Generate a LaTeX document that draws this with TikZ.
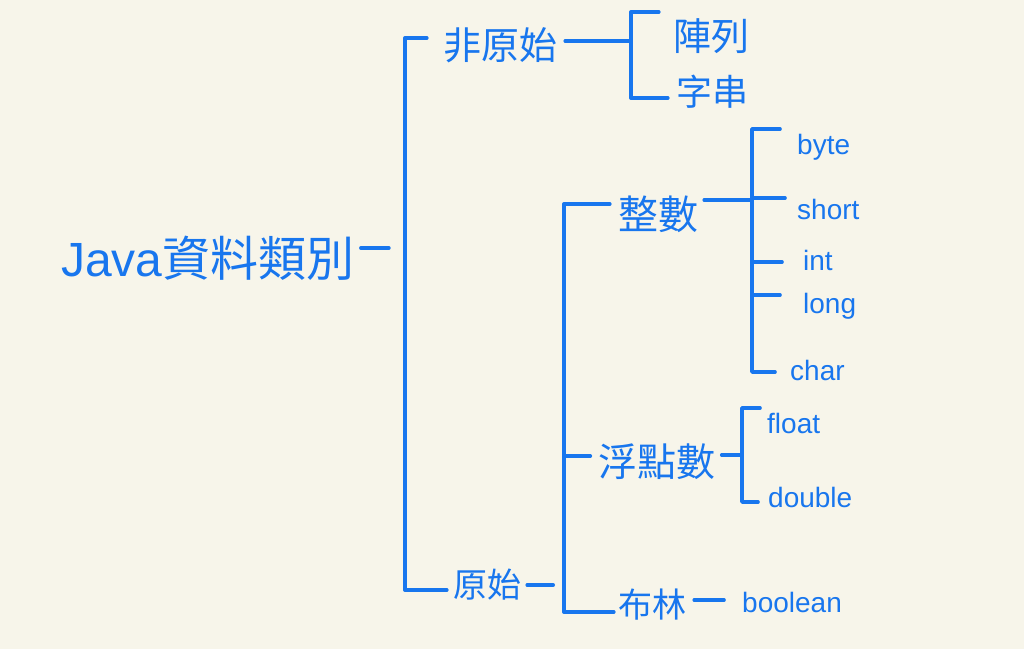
\documentclass[tikz,border=0pt]{standalone}
\usepackage{fontspec}
\setmainfont{Liberation Sans}
\newfontfamily\zhfont{Noto Sans CJK TC}
\usetikzlibrary{positioning}
\definecolor{pen}{RGB}{24,118,238}
\definecolor{paper}{RGB}{247,245,234}

\begin{document}
\begin{tikzpicture}[x=1pt,y=1pt,
  every node/.style={text=pen,inner sep=0pt},
  stroke/.style={draw=pen,line width=3.6pt,line cap=round,line join=round},
  zh/.style={font=\zhfont\fontsize{#1}{#1}\selectfont},
  en/.style={anchor=base west,font=\fontsize{28}{28}\selectfont}]
\useasboundingbox[fill=paper] (0,0) rectangle (1024,649);

\node[font=\fontsize{48}{48}\selectfont] (root) at (208,391) {Java{\zhfont 資料類別}};
\node[zh=38] (nonprim) at (500,604) {非原始};
\node[zh=34] (prim) at (487,64) {原始};
\node[zh=38] (arr) at (711,613) {陣列};
\node[zh=36] (str) at (712,557) {字串};
\node[zh=40] (ints) at (658,435) {整數};
\node[zh=39] (flt) at (657,187) {浮點數};
\node[zh=34] (bool) at (652,44) {布林};
\node[en] (byte) at (797,494) {byte};
\node[en] (short) at (797,429) {short};
\node[en] (int) at (803,379) {int};
\node[en] (long) at (803,336) {long};
\node[en] (char) at (790,269) {char};
\node[en] (float) at (767,216) {float};
\node[en] (double) at (768,142) {double};
\node[en] (boolean) at (742,37) {boolean};

\draw[stroke] ([xshift=6pt,yshift=10pt]root.east) -- +(28,0);
\draw[stroke] ([shift={(-16,7)}]nonprim.west) -- +(-22,0) |- ([shift={(-6,-5)}]prim.west);
\draw[stroke] ([shift={(-14,24)}]arr.west) -- +(-28,0) coordinate (ktop) |- ([shift={(-8,-6)}]str.west);
\draw[stroke] ([shift={(8,4)}]nonprim.east) coordinate (t) -- (t -| ktop);
\draw[stroke] ([xshift=6pt]prim.east) -- +(26,0);
\draw[stroke] ([shift={(-8,10)}]ints.west) -- +(-46,0) |- ([shift={(-4,-7)}]bool.west);
\draw[stroke] ([shift={(-8,6)}]flt.west) -- +(-26,0);
\draw[stroke] ([shift={(-17,26)}]byte.base west) -- +(-28,0) coordinate (dtop) |- ([shift={(-15,8)}]char.base west);
\foreach \w/\dx/\dy in {short/-12/22,int/-21/8,long/-23/18}
  \draw[stroke] ([shift={(\dx,\dy)}]\w.base west) coordinate (t) -- (t -| dtop);
\draw[stroke] ([shift={(6,14)}]ints.east) coordinate (t) -- (t -| dtop);
\draw[stroke] ([shift={(-7,25)}]float.base west) -- +(-18,0) coordinate (ftop) |- ([shift={(-10,5)}]double.base west);
\draw[stroke] ([shift={(6,7)}]flt.east) coordinate (t) -- (t -| ftop);
\draw[stroke] ([shift={(8,5)}]bool.east) -- ([shift={(-18,12)}]boolean.base west);
\end{tikzpicture}
\end{document}
